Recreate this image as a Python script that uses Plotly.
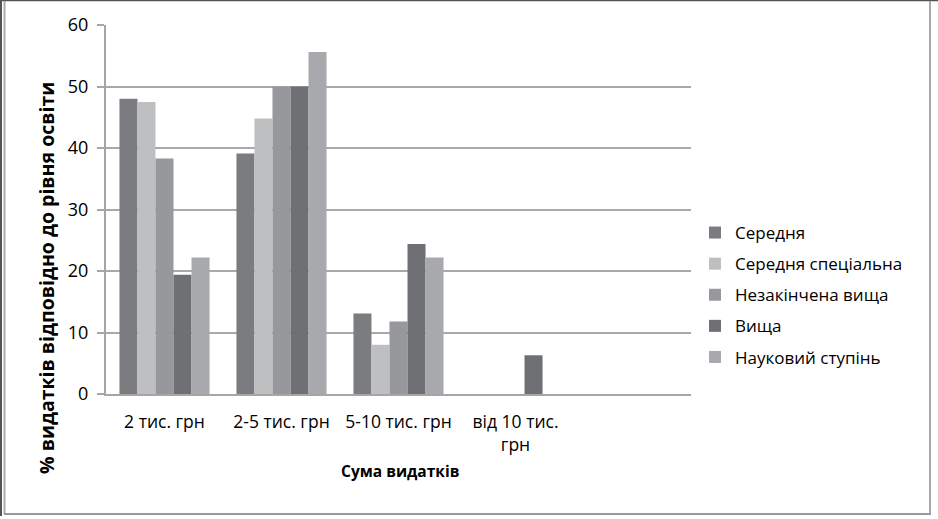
import plotly.graph_objects as go

categories = ["2 тис. грн", "2-5 тис. грн", "5-10 тис. грн", "від 10 тис.<br>грн", " "]
series_names = ["Середня", "Середня спеціальна", "Незакінчена вища", "Вища", "Науковий ступінь"]
serednia = [48.0, 39.1, 13.1, None, None]
serednia_spec = [47.5, 44.8, 8.0, None, None]
nezak_vyshcha = [38.3, 50.0, 11.8, None, None]
vyshcha = [19.4, 50.0, 24.4, 6.3, None]
naukovyi = [22.2, 55.6, 22.2, None, None]
y_ticks = [0, 10, 20, 30, 40, 50, 60]

series_values = [serednia, serednia_spec, nezak_vyshcha, vyshcha, naukovyi]
colors = ["#7b7c80", "#bebfc1", "#97989c", "#6f7074", "#a8a9ac"]

W, H = 938, 519
L, R, T, B = 106, 691, 25, 394
pw, ph = R - L, B - T

def px(x):
    return (x - L) / pw

def py(y):
    return (B - y) / ph

fig = go.Figure()
for i, (name, vals) in enumerate(zip(series_names, series_values)):
    fig.add_trace(go.Bar(
        x=categories, y=vals, name=name,
        marker=dict(color=colors[i], line=dict(color=colors[i], width=0)),
        legendgroup=f"g{i}",
    ))

font_family = "Open Sans, DejaVu Sans, sans-serif"

fig.update_layout(
    width=W, height=H,
    margin=dict(l=L, r=W - R, t=T, b=H - B, autoexpand=False),
    paper_bgcolor="white", plot_bgcolor="white",
    barmode="group", bargap=0.23, bargroupgap=0,
    font=dict(family=font_family, size=13, color="#000000"),
    showlegend=True,
    legend=dict(
        x=px(695), y=py(215), xanchor="left", yanchor="top",
        font=dict(size=17, color="#000000"),
        tracegroupgap=6, itemwidth=30,
        bgcolor="rgba(0,0,0,0)",
    ),
    xaxis=dict(
        type="category", categoryorder="array", categoryarray=categories,
        showgrid=False, showline=True, linecolor="#a6a6a6", linewidth=2,
        ticks="", tickfont=dict(size=17.5), fixedrange=True,
        ticklabelstandoff=11,
    ),
    yaxis=dict(
        range=[0, 60], tickvals=y_ticks, showgrid=True, gridcolor="#a9a9a9", gridwidth=1.5,
        showline=True, linecolor="#a6a6a6", linewidth=2,
        ticks="outside", ticklen=7, tickcolor="#a6a6a6", tickwidth=1.5,
        tickfont=dict(size=18), zeroline=False, ticklabelstandoff=5,
    ),
    annotations=[
        dict(text="<b>Сума видатків</b>", x=px(400), y=py(471), xref="paper", yref="paper",
             showarrow=False, xanchor="center", yanchor="middle", font=dict(size=15.5)),
        dict(text="<b>% видатків відповідно до рівня освіти</b>", x=px(46), y=py(278),
             xref="paper", yref="paper", showarrow=False, textangle=-90,
             xanchor="center", yanchor="middle", font=dict(size=19.5)),
    ],
    shapes=[
        dict(type="line", xref="paper", yref="paper", x0=px(0), x1=px(938), y0=py(0.5), y1=py(0.5),
             line=dict(color="#555555", width=1.5)),
        dict(type="line", xref="paper", yref="paper", x0=px(1), x1=px(1), y0=py(0), y1=py(516),
             line=dict(color="#555555", width=2)),
        dict(type="line", xref="paper", yref="paper", x0=px(4.5), x1=px(4.5), y0=py(1), y1=py(514),
             line=dict(color="#aaaaaa", width=2)),
        dict(type="line", xref="paper", yref="paper", x0=px(930), x1=px(930), y0=py(1), y1=py(514),
             line=dict(color="#aaaaaa", width=2)),
        dict(type="line", xref="paper", yref="paper", x0=px(4), x1=px(931), y0=py(514), y1=py(514),
             line=dict(color="#999999", width=2)),
    ],
)

fig.write_html("out.html", config={"displayModeBar": False},
               post_script="document.body.style.margin='0';document.body.style.overflow='hidden';")
